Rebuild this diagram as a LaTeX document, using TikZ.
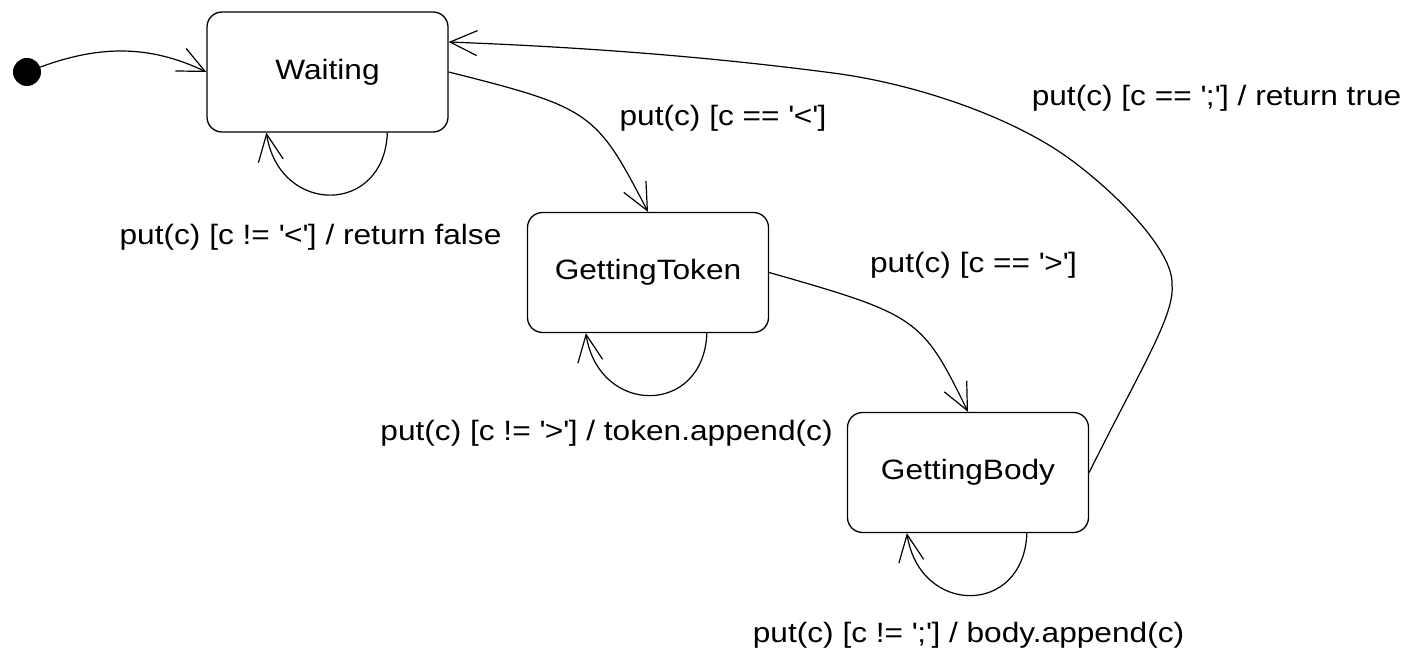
\documentclass[tikz,border=0pt]{standalone}
\usepackage{fontspec}
\setmainfont{Liberation Sans}[FakeStretch=1.13]
\usetikzlibrary{arrows.meta}
\newcommand\myq{\textquotesingle}
\begin{document}
\begin{tikzpicture}[x=1pt,y=-1pt,
  every node/.style={font=\fontsize{28}{32}\selectfont},
  statebox/.style={draw, line width=1.3pt, rounded corners=15pt,
    minimum width=241pt, minimum height=120pt, inner sep=0pt},
  startdot/.style={circle, fill=black, minimum size=28pt, inner sep=0pt},
  trans/.style={line width=1.2pt, -{Straight Barb[length=27pt,width=25pt]}},
  lbl/.style={inner sep=0pt}]
\useasboundingbox (0,0) rectangle (1412,652);

% states
\node[startdot] (init) at (27,72) {};
\node[statebox] (w)  at (327.5,72)  {Waiting};
\node[statebox] (gt) at (648,272.5) {GettingToken};
\node[statebox] (gb) at (968,472.5) {GettingBody};

% transitions
\draw[trans] (init) .. controls (100,45) and (150,45) .. (w.west);
\draw[trans] (w.east) .. controls (592,108) and (596,112) .. (gt.north);
\draw[trans] (gt.east) .. controls (918,315) and (922,318) .. (gb.north);
\draw[trans] (gb.east) .. controls (1140,370) and (1175,315) .. (1172,285)
  .. controls (1174,250) and (1112,189) .. (1067,157)
  .. controls (1011,117) and (917,84) .. (833,73)
  .. controls (703,56) and (579,47) .. ([yshift=30pt]w.east);

% self loops
\draw[trans] ([xshift=181pt]w.south west) .. controls +(-3,83) and +(13,83) .. ([xshift=60pt]w.south west);
\draw[trans] ([xshift=180pt]gt.south west) .. controls +(-3,83) and +(13,83) .. ([xshift=59pt]gt.south west);
\draw[trans] ([xshift=180pt]gb.south west) .. controls +(-3,83) and +(13,83) .. ([xshift=60pt]gb.south west);

% labels
\node[lbl] (l1) at (310.5,237) {put(c) [c != \myq<\myq] / return false};
\node[lbl] (l2) at (723,118)   {put(c) [c == \myq<\myq]};
\node[lbl] (l3) at (973.5,265) {put(c) [c == \myq>\myq]};
\node[lbl] (l4) at (606.5,433) {put(c) [c != \myq>\myq] / token.append(c)};
\node[lbl] (l5) at (968.5,635) {put(c) [c != \myq;\myq] / body.append(c)};
\node[lbl] (l6) at (1216.5,98) {put(c) [c == \myq;\myq] / return true};
\end{tikzpicture}
\end{document}
